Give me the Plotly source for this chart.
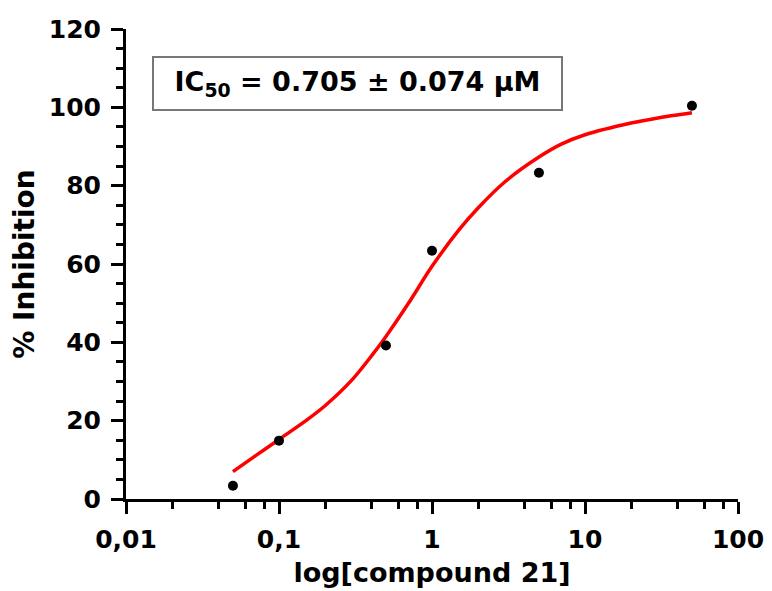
import plotly.graph_objects as go

# Data points
conc = [0.05, 0.1, 0.5, 1, 5, 50]
inhibition = [3.4, 14.9, 39.2, 63.4, 83.3, 100.4]

# Fitted curve
fit_conc = [0.05, 0.07, 0.1, 0.15, 0.2, 0.3, 0.4, 0.5, 0.7, 1,
            1.5, 2, 3, 5, 7, 10, 20, 30, 50]
fit_inhib = [7.0, 11.0, 15.2, 20.0, 23.8, 30.4, 36.4, 41.5, 49.9, 59.4,
             68.7, 74.3, 81.0, 87.3, 90.6, 93.0, 96.0, 97.3, 98.6]

x_tickvals = [0.01, 0.1, 1, 10, 100]
x_ticktext = ["0,01", "0,1", "1", "10", "100"]
x_minor = [m * d for d in [0.01, 0.1, 1, 10] for m in [2, 4, 6, 8]]

FONT = "DejaVu Sans"

fig = go.Figure()
fig.add_trace(go.Scatter(x=fit_conc, y=fit_inhib, mode="lines",
                         line=dict(color="#ff0000", width=3.5, shape="spline", smoothing=0.8),
                         showlegend=False, hoverinfo="skip"))
fig.add_trace(go.Scatter(x=conc, y=inhibition, mode="markers",
                         marker=dict(color="black", size=10),
                         showlegend=False))

# page body has an 8px margin, so the figure is 8px smaller in each direction
fig.update_layout(
    width=764, height=583,
    margin=dict(l=118, r=34, t=21, b=92, autoexpand=False),
    paper_bgcolor="white", plot_bgcolor="white",
    font=dict(family=FONT, color="black", size=25, weight="bold"),
    xaxis=dict(type="log", range=[-2, 2], tickvals=x_tickvals, ticktext=x_ticktext,
               automargin=False,
               showline=True, linecolor="black", linewidth=3, showgrid=False, zeroline=False,
               ticks="outside", ticklen=12, tickwidth=3, tickcolor="black",
               ticklabelstandoff=4,
               tickfont=dict(family=FONT, size=25, weight="bold"),
               minor=dict(tickvals=x_minor, ticks="outside", ticklen=7, tickwidth=3,
                          tickcolor="black", showgrid=False),
               title=dict(text="log[compound 21]", font=dict(family=FONT, size=27, weight="bold"),
                          standoff=11)),
    yaxis=dict(range=[0, 120], dtick=20, tick0=0,
               automargin=False,
               showline=True, linecolor="black", linewidth=3, showgrid=False, zeroline=False,
               ticks="outside", ticklen=12, tickwidth=3, tickcolor="black",
               ticklabelstandoff=5,
               tickfont=dict(family=FONT, size=25, weight="bold"),
               minor=dict(dtick=5, ticks="outside", ticklen=7, tickwidth=3,
                          tickcolor="black", showgrid=False),
               title=dict(text="% Inhibition", font=dict(family=FONT, size=28, weight="bold"),
                          standoff=10)),
    annotations=[dict(
        text="IC<sub>50</sub> = 0.705 ± 0.074 µM",
        xref="paper", yref="paper", x=0.378, y=0.884,
        xanchor="center", yanchor="middle", showarrow=False,
        font=dict(family=FONT, size=27, weight="bold", color="black"),
        bordercolor="#777777", borderwidth=2, borderpad=2,
        width=403, height=47, bgcolor="white")],
)

fig.write_html("out.html")
